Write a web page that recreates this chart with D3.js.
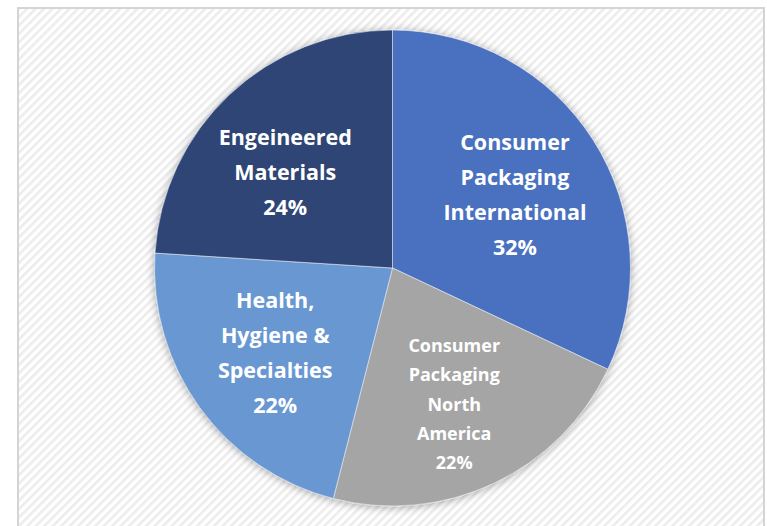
<!DOCTYPE html>
<html>
<head>
<meta charset="utf-8">
<script src="https://cdn.jsdelivr.net/npm/d3@7"></script>
<style>
  body { margin: 0; background: #fff; }
  svg { display: block; }
</style>
</head>
<body>
<div id="chart"></div>
<script>
// segment data, clockwise from 12 o'clock
var segments = ["Consumer Packaging International", "Consumer Packaging North America",
                "Health, Hygiene & Specialties", "Engeineered Materials"];
var shares = [32, 22, 22, 24];
var labelLines = [
  ["Consumer", "Packaging", "International", "32%"],
  ["Consumer", "Packaging", "North", "America", "22%"],
  ["Health,", "Hygiene &", "Specialties", "22%"],
  ["Engeineered", "Materials", "24%"]
];

var width = 767, height = 526;
var cx = 392.5, cy = 268, radius = 238;

var color = d3.scaleOrdinal()
  .domain(segments)
  .range(["#4a71c0", "#a5a5a5", "#6897d2", "#2d4575"]);

var svg = d3.select("#chart").append("svg")
  .attr("width", width)
  .attr("height", height);

var defs = svg.append("defs");

// diagonal hatch background
var pat = defs.append("pattern")
  .attr("id", "hatch")
  .attr("patternUnits", "userSpaceOnUse")
  .attr("width", 6).attr("height", 6)
  .attr("patternTransform", "rotate(-45)");
pat.append("rect").attr("width", 6).attr("height", 6).attr("fill", "#ffffff");
pat.append("rect").attr("width", 6).attr("height", 2.6).attr("fill", "#ececec");

var shadow = defs.append("filter").attr("id", "shadow")
  .attr("x", "-20%").attr("y", "-20%").attr("width", "140%").attr("height", "140%");
shadow.append("feDropShadow")
  .attr("dx", 0).attr("dy", 1)
  .attr("stdDeviation", 4)
  .attr("flood-color", "#000")
  .attr("flood-opacity", 0.35);

// frame
svg.append("rect")
  .attr("x", 18).attr("y", 8)
  .attr("width", 746).attr("height", 530)
  .attr("fill", "url(#hatch)")
  .attr("stroke", "#d4d4d4")
  .attr("stroke-width", 2);

var pie = d3.pie().sort(null).value(function(d) { return d; });
var arcs = pie(shares);

var arc = d3.arc().innerRadius(0).outerRadius(radius);
var labelArc = d3.arc().innerRadius(145).outerRadius(145);

var g = svg.append("g")
  .attr("transform", "translate(" + cx + "," + cy + ")");

g.append("g")
  .attr("filter", "url(#shadow)")
  .selectAll("path")
  .data(arcs)
  .enter().append("path")
  .attr("d", arc)
  .attr("fill", function(d, i) { return color(segments[i]); })
  .attr("stroke", "#e8edf6")
  .attr("stroke-width", 0.6);

// small manual nudges so labels sit like excel placed them
var nudge = [[0, 5], [0, 5], [0, 0], [-8, 10]];

var labels = g.selectAll(".label")
  .data(arcs)
  .enter().append("text")
  .attr("class", "label")
  .attr("text-anchor", "middle")
  .attr("fill", "#fff")
  .style("font-family", "'Open Sans', sans-serif")
  .style("font-weight", "bold")
  .style("font-size", function(d, i) { return i == 1 ? "18px" : "21.5px"; })
  .attr("transform", function(d, i) {
    var c = labelArc.centroid(d);
    return "translate(" + (c[0] + nudge[i][0]) + "," + (c[1] + nudge[i][1]) + ")";
  });

labels.each(function(d, i) {
  var lines = labelLines[i];
  var lh = i == 1 ? 29.5 : 35;
  var t = d3.select(this);
  lines.forEach(function(line, j) {
    t.append("tspan")
      .attr("x", 0)
      .attr("y", (j - (lines.length - 1) / 2) * lh)
      .attr("dy", "0.35em")
      .text(line);
  });
});
</script>
</body>
</html>
